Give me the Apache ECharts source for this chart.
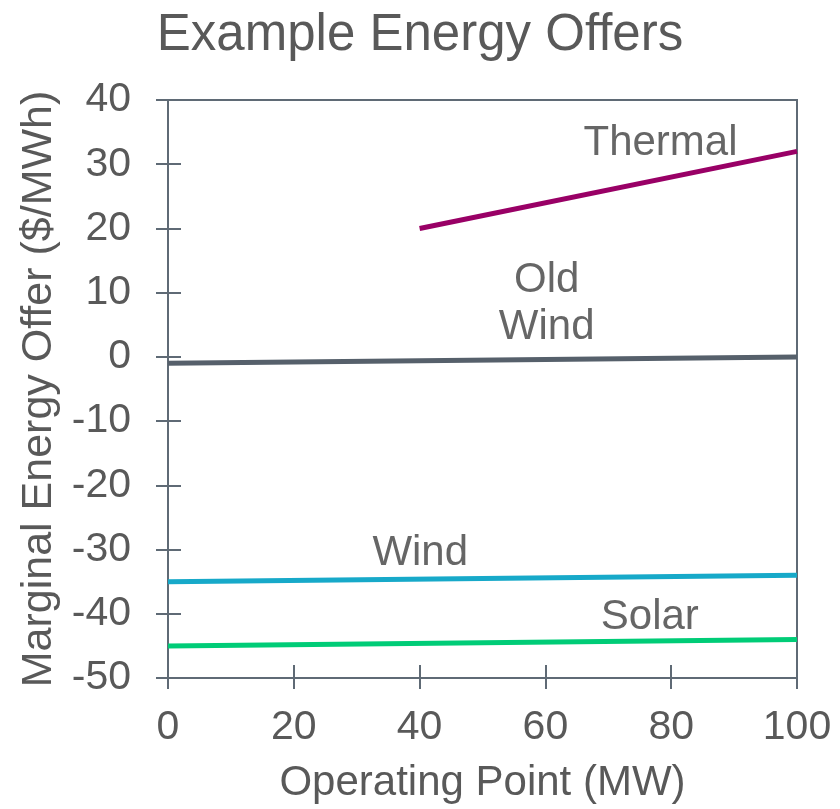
<!DOCTYPE html>
<html><head><meta charset="utf-8">
<script src="https://cdn.jsdelivr.net/npm/echarts@6/dist/echarts.min.js"></script>
<style>html,body{margin:0;padding:0;background:#fff}#c{width:840px;height:809px}</style>
</head><body><div id="c"></div>
<script>
const xTicks = [0, 20, 40, 60, 80, 100];
const yTicks = [-50, -40, -30, -20, -10, 0, 10, 20, 30, 40];
const thermal = [[40, 20], [100, 32]];
const oldWind = [[0, -1], [100, 0]];
const wind = [[0, -35], [100, -34]];
const solar = [[0, -45], [100, -44]];
const labels = [
  {text: 'Thermal', x: 78.3, y: 33.2},
  {text: 'Old\nWind', x: 60.2, y: 8.3},
  {text: 'Wind', x: 40.1, y: -30.6},
  {text: 'Solar', x: 76.6, y: -40.5}
];
const axisColor = '#5f6a75';
const textColor = '#595959';
const font = 'Liberation Sans, Arial, sans-serif';
const chart = echarts.init(document.getElementById('c'));
function mk(name, data, color) {
  return {
    name, type: 'line', data, symbol: 'none', silent: true,
    lineStyle: {color, width: 5}, itemStyle: {color}
  };
}
const series = [
  mk('Thermal', thermal, '#990066'),
  mk('Old Wind', oldWind, '#56606b'),
  mk('Wind', wind, '#17a9c9'),
  mk('Solar', solar, '#00cc77')
];
series.push({
  type: 'scatter', symbolSize: 0, silent: true,
  data: labels.map(l => ({value: [l.x, l.y], label: {formatter: l.text}})),
  label: {show: true, position: 'inside', color: '#404040', fontSize: 42, fontFamily: font, lineHeight: 47}
});
chart.setOption({
  animation: false,
  title: {text: 'Example Energy Offers', left: 'center', top: 5,
    textStyle: {fontSize: 51, fontWeight: 'normal', color: textColor, fontFamily: font}},
  grid: {left: 168, right: 43, top: 100, bottom: 128, show: true, borderColor: axisColor, borderWidth: 2},
  xAxis: [{
    type: 'value', min: 0, max: 100, interval: 20,
    name: 'Operating Point (MW)', nameLocation: 'middle', nameGap: 84,
    nameTextStyle: {fontSize: 42, color: textColor, fontFamily: font},
    axisLine: {show: true, onZero: false, lineStyle: {color: axisColor, width: 2}},
    axisTick: {show: true, length: 11, lineStyle: {color: axisColor, width: 2}},
    axisLabel: {fontSize: 41, color: textColor, fontFamily: font, margin: 29},
    splitLine: {show: false}
  }, {
    type: 'value', min: 0, max: 100, interval: 20, position: 'bottom',
    axisLine: {show: false, onZero: false}, axisLabel: {show: false}, splitLine: {show: false},
    axisTick: {show: true, inside: true, length: 13, lineStyle: {color: axisColor, width: 2}}
  }],
  yAxis: [{
    type: 'value', min: -50, max: 40, interval: 10,
    name: 'Marginal Energy Offer ($/MWh)', nameLocation: 'middle', nameGap: 106,
    nameTextStyle: {fontSize: 43, color: textColor, fontFamily: font},
    axisLine: {show: true, onZero: false, lineStyle: {color: axisColor, width: 2}},
    axisTick: {show: true, length: 12, lineStyle: {color: axisColor, width: 2}},
    axisLabel: {fontSize: 41, color: textColor, fontFamily: font, margin: 37},
    splitLine: {show: false}
  }, {
    type: 'value', min: -50, max: 40, interval: 10, position: 'left',
    axisLine: {show: false, onZero: false}, axisLabel: {show: false}, splitLine: {show: false},
    axisTick: {show: true, inside: true, length: 13, lineStyle: {color: axisColor, width: 2}}
  }],
  series
});
</script></body></html>
